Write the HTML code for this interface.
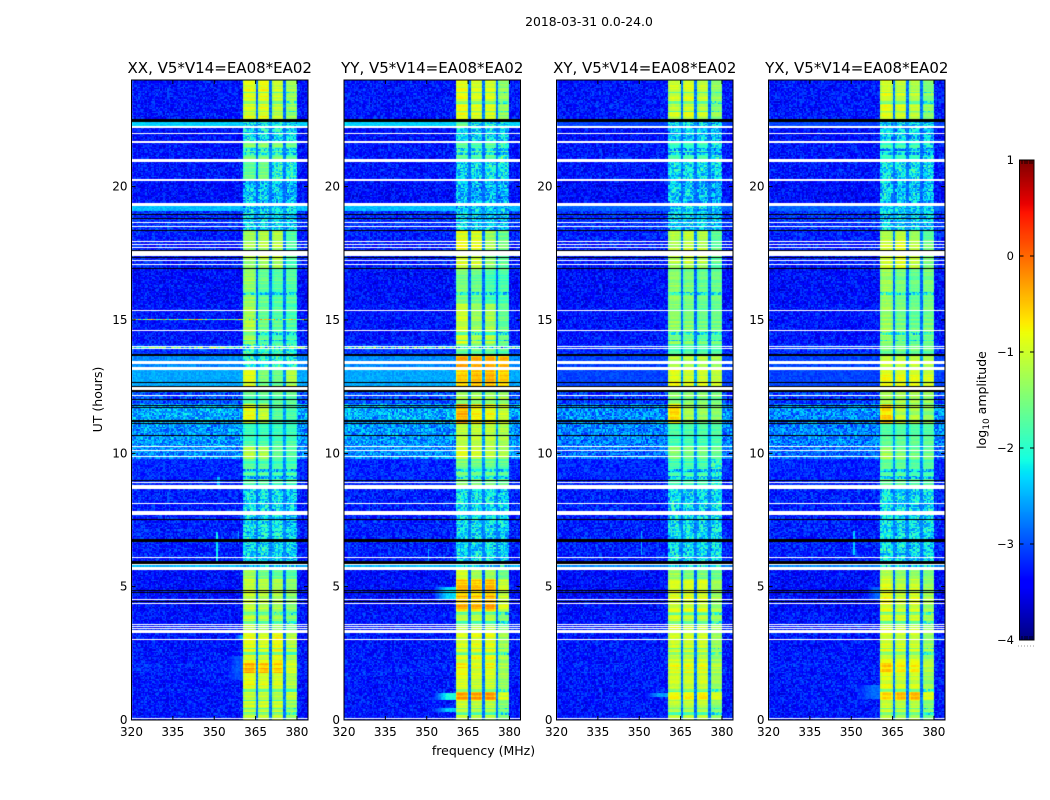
<!DOCTYPE html>
<html lang="en">
<head>
<meta charset="utf-8">
<title>2018-03-31 0.0-24.0</title>
<style>
html,body{margin:0;padding:0;background:#fff;}
#chart{position:relative;width:1050px;height:800px;overflow:hidden;background:#fff;}
canvas{position:absolute;display:block;}
svg{position:absolute;left:0;top:0;}
text{font-family:"DejaVu Sans","Liberation Sans",sans-serif;fill:#000;}
</style>
</head>
<body>
<div id="chart">
<canvas id="heat-0" width="177" height="640" style="left:131px;top:80px"></canvas>
<canvas id="heat-1" width="177" height="640" style="left:344px;top:80px"></canvas>
<canvas id="heat-2" width="177" height="640" style="left:556px;top:80px"></canvas>
<canvas id="heat-3" width="177" height="640" style="left:768px;top:80px"></canvas>
<canvas id="colorbar-canvas" width="15" height="480" style="left:1019px;top:160px"></canvas>
<svg id="overlay" width="1050" height="800">
<text x="589" y="26" text-anchor="middle" font-size="12.4">2018-03-31 0.0-24.0</text>
<text x="483.5" y="755" text-anchor="middle" font-size="12.5">frequency (MHz)</text>
<text x="102" y="399.5" text-anchor="middle" font-size="12.5" transform="rotate(-90 102 399.5)">UT (hours)</text>
<text x="986" y="400" text-anchor="middle" font-size="12.5" transform="rotate(-90 986 400)">log<tspan dy="3" font-size="9">10</tspan><tspan dy="-3"> amplitude</tspan></text>
</svg>
</div>
<script>
// ---- chart data (all levels are log10 amplitude, hours are UT, frequencies MHz) ----
const polarisations = ['XX', 'YY', 'XY', 'YX'];
const panelTitles = ['XX, V5*V14=EA08*EA02', 'YY, V5*V14=EA08*EA02', 'XY, V5*V14=EA08*EA02', 'YX, V5*V14=EA08*EA02'];
const xTickValues = [320, 335, 350, 365, 380];
const yTickValues = [0, 5, 10, 15, 20];
const colorbarTickValues = [-4, -3, -2, -1, 0, 1];

const segmentEdges = [0, .7, 1.05, 1.75, 2.15, 3.3, 4.1, 5.3, 5.75, 5.95, 8.7, 9.8, 10.25, 11.15, 11.85, 12.4, 13.15, 13.7, 14.1, 15.6, 16.9, 18.35, 19.1, 19.3, 20.2, 20.97, 21.7, 22.2, 22.48, 24];
const parallelBackground = [-3.3, -3.3, -3.3, -3.25, -3.3, -3.3, -3.35, -3.35, -2.45, -3.25, -3.2, -2.7, -2.65, -2.55, -3.0, -2.55, -2.7, -3.1, -3.3, -3.35, -3.25, -3.15, -2.45, -3.35, -3.3, -3.3, -3.35, -2.35, -3.3];
const crossBackground = [-3.3, -3.3, -3.3, -3.25, -3.3, -3.3, -3.35, -3.35, -2.7, -3.25, -3.2, -2.85, -2.75, -2.7, -3.1, -3.05, -3.05, -3.15, -3.3, -3.35, -3.25, -3.15, -2.9, -3.35, -3.3, -3.3, -3.35, -3.05, -3.3];
const backgroundGrain = [.36, .36, .36, .36, .36, .36, .36, .36, .15, .38, .3, .45, .5, .5, .42, .15, .18, .3, .36, .36, .36, .36, .15, .36, .36, .36, .36, .12, .36];

const subbandEdges = [[360.5, 365], [366, 370], [371, 375], [376, 380]];

const xxBandLevels = [
[-1.0,-1.0,-1.0,-1.3],[-1.0,-1.0,-1.1,-1.0],[-.85,-.95,-.95,-1.2],[-.4,-.5,-.6,-1.0],[-.9,-1.0,-.85,-1.2],
[-1.1,-1.2,-1.3,-1.5],[-1.05,-1.15,-1.2,-1.4],[-1.2,-1.5,-1.6,-1.7],[-2.3,-2.3,-2.3,-2.3],[-2.25,-2.25,-2.25,-2.35],
[-1.75,-1.75,-1.85,-1.85],[-1.1,-1.2,-1.6,-1.7],[-1.8,-1.8,-1.8,-1.8],[-.85,-1.1,-1.7,-1.8],[-1.65,-1.65,-1.65,-1.65],
[-.9,-1.5,-1.6,-1.2],[-2.0,-2.0,-2.0,-2.0],[-1.9,-1.9,-1.9,-2.0],[-1.2,-1.6,-1.7,-1.8],[-1.3,-1.6,-1.7,-1.7],
[-1.3,-1.2,-1.2,-1.8],[-2.3,-2.3,-2.3,-2.35],[-2.3,-2.3,-2.3,-2.3],[-2.4,-2.4,-2.4,-2.5],[-1.6,-1.5,-2.0,-2.1],
[-1.5,-1.5,-1.5,-1.7],[-2.2,-2.2,-2.2,-2.3],[-2.3,-2.3,-2.3,-2.3],[-.9,-.85,-1.05,-1.3]];
const yyBandLevels = [
[-1.0,-1.1,-1.1,-1.4],[-.35,-.35,-.3,-1.0],[-.9,-1.0,-1.0,-1.3],[-.7,-.9,-.8,-1.2],[-1.0,-.9,-.9,-1.3],
[-1.2,-1.2,-1.2,-1.5],[-.45,-.5,-.4,-1.0],[-1.0,-1.3,-1.3,-1.6],[-2.3,-2.3,-2.3,-2.3],[-2.25,-2.25,-2.25,-2.35],
[-1.5,-1.6,-1.6,-1.7],[-.9,-1.0,-1.1,-1.2],[-1.1,-1.1,-1.1,-1.2],[-.35,-.7,-.8,-1.0],[-1.3,-1.3,-1.3,-1.3],
[-.6,-.5,-.45,-.6],[-.4,-.45,-.45,-.5],[-1.7,-1.7,-1.7,-1.8],[-1.0,-1.3,-1.2,-1.6],[-1.5,-1.6,-1.8,-1.8],
[-.9,-.95,-1.3,-1.6],[-2.3,-2.4,-2.4,-2.4],[-2.4,-2.4,-2.4,-2.4],[-2.4,-2.5,-2.4,-2.5],[-2.3,-2.3,-2.1,-2.2],
[-1.6,-1.7,-1.6,-1.9],[-2.2,-2.3,-2.2,-2.3],[-1.6,-2.2,-2.1,-2.3],[-.9,-1.0,-1.0,-1.4]];
const xyBandLevels = [
[-1.1,-1.1,-1.1,-1.4],[-.85,-.8,-.75,-1.0],[-1.0,-1.0,-1.0,-1.3],[-.9,-.9,-.9,-1.2],[-1.0,-1.0,-1.0,-1.3],
[-.95,-1.1,-1.1,-1.3],[-.95,-.95,-.95,-1.3],[-1.3,-1.5,-1.5,-1.6],[-2.3,-2.3,-2.3,-2.3],[-2.2,-2.25,-2.25,-2.25],
[-1.8,-1.8,-1.8,-1.9],[-1.4,-1.5,-1.5,-1.6],[-1.8,-1.8,-1.8,-1.8],[-.6,-1.2,-1.3,-1.4],[-1.4,-1.4,-1.4,-1.5],
[-.9,-1.0,-1.0,-1.1],[-1.2,-1.2,-1.2,-1.3],[-1.7,-1.7,-1.7,-1.7],[-1.4,-1.5,-1.6,-1.6],[-1.4,-1.5,-1.6,-1.6],
[-1.2,-1.1,-1.2,-1.7],[-2.3,-2.3,-2.3,-2.4],[-2.3,-2.3,-2.3,-2.4],[-2.3,-2.4,-2.4,-2.5],[-2.2,-2.2,-2.2,-2.3],
[-1.85,-1.85,-1.85,-2.1],[-2.3,-2.3,-2.3,-2.4],[-2.3,-2.3,-2.3,-2.4],[-1.05,-.95,-1.1,-1.4]];
const yxBandLevels = [
[-1.0,-1.1,-1.1,-1.4],[-.6,-.45,-.4,-.9],[-.9,-1.0,-1.0,-1.3],[-.6,-.8,-.8,-1.2],[-.95,-1.0,-1.0,-1.3],
[-.95,-1.0,-1.0,-1.3],[-.9,-1.1,-1.0,-1.3],[-1.2,-1.4,-1.4,-1.5],[-2.3,-2.3,-2.3,-2.3],[-2.2,-2.25,-2.25,-2.25],
[-1.7,-1.7,-1.8,-1.8],[-1.3,-1.5,-1.6,-1.6],[-1.7,-1.7,-1.7,-1.7],[-.6,-1.1,-1.2,-1.4],[-1.3,-1.3,-1.3,-1.4],
[-.85,-.9,-.9,-1.0],[-1.0,-1.0,-1.0,-1.1],[-1.6,-1.6,-1.6,-1.7],[-1.3,-1.5,-1.6,-1.5],[-1.3,-1.5,-1.6,-1.5],
[-1.1,-1.0,-1.2,-1.6],[-2.3,-2.3,-2.3,-2.4],[-2.3,-2.3,-2.3,-2.4],[-2.3,-2.4,-2.4,-2.5],[-2.2,-2.2,-2.2,-2.3],
[-1.85,-1.85,-1.85,-2.1],[-2.3,-2.3,-2.3,-2.4],[-2.3,-2.3,-2.3,-2.4],[-.9,-1.0,-1.1,-1.4]];
const bandLevelsByPol = [xxBandLevels, yyBandLevels, xyBandLevels, yxBandLevels];

// Flagged (blank) and zero-amplitude integrations: [centre hour, duration hours]
const whiteRows = [[22.23,.06],[21.98,.04],[21.69,.08],[20.98,.08],[20.24,.08],[19.33,.13],[18.67,.04],[18.52,.04],[17.94,.04],[17.83,.04],[17.71,.04],[17.48,.18],[17.22,.04],[17.09,.04],[15.34,.04],[14.59,.04],[14.02,.04],[13.93,.04],[13.39,.11],[13.17,.11],[12.43,.16],[12.16,.04],[10.27,.04],[10.12,.04],[9.88,.04],[8.89,.04],[8.73,.16],[8.11,.04],[7.75,.15],[6.08,.04],[5.84,.04],[5.67,.1],[4.53,.04],[4.36,.04],[3.59,.04],[3.52,.04],[3.43,.04],[3.32,.08],[3.01,.04],[.06,.05]];
const blackRows = [[22.48,.09],[18.95,.04],[18.8,.04],[18.35,.06],[17.59,.04],[17.36,.04],[16.93,.06],[13.68,.08],[12.67,.04],[12.52,.04],[12.33,.06],[12.01,.04],[11.8,.04],[11.71,.04],[11.2,.08],[11.12,.04],[10.67,.06],[8.97,.04],[7.51,.04],[6.73,.08],[5.92,.11],[4.85,.04],[4.78,.04],[4.44,.04]];

// Integrations where the bandpass visibly dips
const dipHours = [23.53,23.16,22.82,21.39,21.24,15.99,14.49,14.23,9.36,9.09,3.99,3.66,2.68,2.49,1.11,.73,.43,.24];
const dipDepth = .6;

// Glow just below the band: [pol index, start hour, end hour, start MHz, level]
const glowPatches = [[0,3.0,3.2,357.5,-2.6],[0,1.5,2.4,355,-2.95],[1,4.5,5.0,352,-2.3],[1,.75,1.0,352,-2.1],[1,.3,.45,352,-2.4],[2,.85,1.0,352,-2.6],[3,.8,1.3,352,-2.85],[3,4.5,5.0,355,-2.9]];
// Narrow vertical interference: [pol index, start hour, end hour, start MHz, end MHz, level]
const rfiLines = [[0,5.95,7.05,350.5,351.5,-2.2],[0,6.6,7.1,358.5,359,-2.6],[1,5.95,6.4,350.5,351,-2.6],[2,6.2,7.1,350.5,351,-2.5],[3,6.2,7.1,350.5,351.5,-2.4],[0,8.8,9.1,351,352,-2.5]];
// Single hot integration: [pol index, hour, level]
const hotRows = [[0,15.03,-1.2],[1,13.98,-2.2],[0,13.97,-2.0]];

// Grainy cell texture (a hand-typed repeating tile, not per-cell measured data)
const speckle = [.42,-.71,.13,.88,-.35,-.92,.57,.09,-.48,.76,-.14,-.63,.31,.95,-.81,.22,-.27,.68,-.55,.04,.83,-.39,-.76,.49,.17,-.98,.62,-.08,.35,-.6,.91,-.22,-.44,.73,.11,-.85,.28,-.12,.54,-.67,.79,.02,-.33,-.89,.46,.66,-.19,-.52,.97,-.74,.25,.38,-.06,-.94,.6,.15,-.41,.81,-.29,-.58,.07,.71,-.83,.33,-.16,.52,-.69,.93,-.37,.19,-.03,-.78,.44,.64,-.24,-.96,.85,.12,-.5,.29,-.65,.75,-.1,.39,-.87,.58,.05,-.31,.69,-.46,.21,-.73,.99,-.18,-.57,.36,.47,-.91,.16,.77,-.26];

// ---- scales ----
const rowStep = .05, channelStep = .5, rowCount = 480, channelCount = 128;
const axisLeft = [131.5, 344, 556.5, 768.5], axisWidth = 176.5, axisTop = 80, axisHeight = 640;
const freqMin = 320, freqMax = 384, hourMax = 24, levelMin = -4, levelMax = 1;
const xScale = mhz => (mhz - freqMin) / (freqMax - freqMin) * axisWidth;
const yScale = hour => axisHeight * (1 - hour / hourMax);
const levelScale = lv => 160 + 480 * (levelMax - lv) / (levelMax - levelMin);

function clamp01(v) { return Math.max(0, Math.min(1, v)); }
function jet(t) {
  t = clamp01(t);
  const r = t < .35 ? 0 : t < .66 ? (t - .35) / .31 : t < .89 ? 1 : 1 - .5 * (t - .89) / .11;
  const g = t < .125 ? 0 : t < .375 ? (t - .125) / .25 : t < .64 ? 1 : t < .91 ? 1 - (t - .64) / .27 : 0;
  const b = t < .11 ? .5 + .5 * t / .11 : t < .34 ? 1 : t < .65 ? 1 - (t - .34) / .31 : 0;
  return 'rgb(' + Math.round(r * 255) + ',' + Math.round(g * 255) + ',' + Math.round(b * 255) + ')';
}
const levelColor = lv => jet((lv - levelMin) / (levelMax - levelMin));

function segmentOf(hour) {
  for (let i = 0; i < segmentEdges.length - 1; i++) {
    if (hour >= segmentEdges[i] && hour < segmentEdges[i + 1]) return i;
  }
  return segmentEdges.length - 2;
}
function subbandOf(mhz) {
  for (let i = 0; i < subbandEdges.length; i++) {
    if (mhz >= subbandEdges[i][0] && mhz < subbandEdges[i][1]) return i;
  }
  return -1;
}
function cellLevel(pol, row, channel) {
  const hour = (row + .5) * rowStep, mhz = freqMin + (channel + .5) * channelStep;
  const seg = segmentOf(hour);
  const tileIndex = channel * channel * 13 + row * row * 29 + channel * row * 7 + channel * 37 + row * 59 + pol * 17;
  const grain = speckle[tileIndex % speckle.length];
  const rowGrain = speckle[(row * row * 3 + row * 11 + pol * 5) % speckle.length];
  const bg = (pol < 2 ? parallelBackground : crossBackground)[seg];
  for (const hot of hotRows) {
    if (hot[0] === pol && Math.abs(hot[1] - hour) < rowStep / 2) return hot[2] + grain * 1.2;
  }
  const sb = subbandOf(mhz);
  if (sb >= 0) {
    let lv = bandLevelsByPol[pol][seg][sb];
    for (const d of dipHours) {
      if (Math.abs(d - hour) < rowStep * .75) lv -= dipDepth;
    }
    const dim = lv < -1.85;
    if (mhz - subbandEdges[sb][0] < .5 || subbandEdges[sb][1] - mhz < .5) lv -= .18;
    return lv + grain * (dim ? .55 : .07) + rowGrain * (dim ? .08 : .2);
  }
  if (mhz > 360.5 && mhz < 380) {
    return Math.min(bg + .5, -2.6) + grain * .2;
  }
  let out = bg + grain * backgroundGrain[seg];
  for (const g of glowPatches) {
    if (g[0] === pol && hour >= g[1] && hour < g[2] && mhz >= g[3] && mhz < 360.5) {
      const frac = (mhz - g[3]) / (360.5 - g[3]);
      out = Math.max(out, bg + (g[4] - bg) * Math.min(1, frac * 1.6) + grain * .12);
    }
  }
  for (const v of rfiLines) {
    if (v[0] === pol && hour >= v[1] && hour < v[2] && mhz >= v[3] && mhz < v[4]) out = v[5] + grain * .15;
  }
  return out;
}

// ---- draw heatmaps ----
polarisations.forEach(function (pol, p) {
  const cv = document.getElementById('heat-' + p);
  const ctx = cv.getContext('2d');
  const offset = axisLeft[p] - parseFloat(cv.style.left);
  for (let r = 0; r < rowCount; r++) {
    const y0 = Math.round(yScale((r + 1) * rowStep)), y1 = Math.round(yScale(r * rowStep));
    for (let c = 0; c < channelCount; c++) {
      const x0 = Math.round(offset + xScale(freqMin + c * channelStep)), x1 = Math.round(offset + xScale(freqMin + (c + 1) * channelStep));
      ctx.fillStyle = levelColor(cellLevel(p, r, c));
      ctx.fillRect(x0, y0, x1 - x0, y1 - y0);
    }
  }
  function drawFlags(rows, color) {
    ctx.fillStyle = color;
    rows.forEach(function (f) {
      const y0 = Math.round(yScale(f[0] + f[1] / 2));
      const y1 = Math.round(yScale(f[0] - f[1] / 2));
      ctx.fillRect(0, y0, cv.width, Math.max(1, y1 - y0));
    });
  }
  drawFlags(whiteRows, '#fff');
  drawFlags(blackRows, '#000');
});

// ---- draw colorbar ----
(function () {
  const cv = document.getElementById('colorbar-canvas');
  const ctx = cv.getContext('2d');
  for (let y = 0; y < cv.height; y++) {
    ctx.fillStyle = jet(1 - (y + .5) / cv.height);
    ctx.fillRect(0, y, cv.width, 1);
  }
})();

// ---- axes, ticks and labels ----
const svg = document.getElementById('overlay');
const NS = 'http://www.w3.org/2000/svg';
function make(tag, attrs, parent) {
  const el = document.createElementNS(NS, tag);
  Object.keys(attrs).forEach(function (k) { el.setAttribute(k, attrs[k]); });
  parent.appendChild(el);
  return el;
}
const tickLength = 4;
polarisations.forEach(function (pol, p) {
  const key = pol.toLowerCase();
  const left = axisLeft[p], right = left + axisWidth, top = axisTop, bottom = axisTop + axisHeight;
  const group = make('g', {}, svg);
  
  

  const frame = make('rect', { x: left, y: top, width: axisWidth, height: axisHeight, fill: 'none', stroke: '#000', 'stroke-width': 1 }, group);
  
  

  const title = make('text', { x: left + axisWidth / 2, y: 73, 'text-anchor': 'middle', 'font-size': 15 }, group);
  title.textContent = panelTitles[p];
  
  

  xTickValues.forEach(function (v) {
    const x = left + xScale(v);
    const ticks = make('path', { d: 'M' + x + ' ' + bottom + 'v-' + tickLength + 'M' + x + ' ' + top + 'v' + tickLength, stroke: '#000', 'stroke-width': 1, fill: 'none' }, group);
    
    
    const label = make('text', { x: x, y: 736, 'text-anchor': 'middle', 'font-size': 12 }, group);
    label.textContent = v;
    
    
  });
  yTickValues.forEach(function (v) {
    const y = top + yScale(v);
    const ticks = make('path', { d: 'M' + left + ' ' + y + 'h' + tickLength + 'M' + right + ' ' + y + 'h-' + tickLength, stroke: '#000', 'stroke-width': 1, fill: 'none' }, group);
    
    
    const label = make('text', { x: left - 4, y: y + 4, 'text-anchor': 'end', 'font-size': 12 }, group);
    label.textContent = v;
    
    
  });
});

const cbLeft = 1019.5, cbRight = 1034;
const cbGroup = make('g', {}, svg);


const cbFrame = make('rect', { x: cbLeft, y: 160, width: cbRight - cbLeft, height: 480, fill: 'none', stroke: '#000', 'stroke-width': 1 }, cbGroup);


colorbarTickValues.forEach(function (v) {
  const y = levelScale(v);
  const tick = make('path', { d: 'M' + cbLeft + ' ' + y + 'h' + tickLength + 'M' + cbRight + ' ' + y + 'h-' + tickLength, stroke: '#000', 'stroke-width': 1, fill: 'none' }, cbGroup);
  
  
  const label = make('text', { x: 1014, y: y + 4, 'text-anchor': 'end', 'font-size': 11.5 }, cbGroup);
  label.textContent = v < 0 ? '\u2212' + Math.abs(v) : String(v);
  
  
});
[1022, 1025, 1027, 1030, 1032].forEach(function (x) {
  const edgeTick = make('path', { d: 'M' + x + ' 160v4M' + x + ' 640v-4', stroke: '#000', 'stroke-width': .8, fill: 'none' }, cbGroup);
  
  
});
const dots = make('line', { x1: 1018, x2: 1035, y1: 646, y2: 646, stroke: '#999', 'stroke-width': 1, 'stroke-dasharray': '1 2' }, cbGroup);


</script>
</body>
</html>
